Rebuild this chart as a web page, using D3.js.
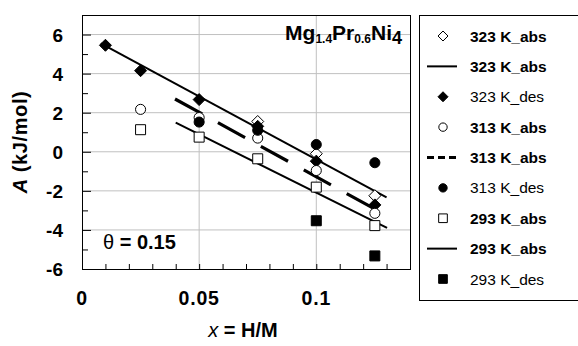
<!DOCTYPE html>
<html><head><meta charset="utf-8">
<script src="https://cdn.jsdelivr.net/npm/d3@7"></script>
<style>body{margin:0;background:#fff}svg{display:block;font-family:Arial,"Liberation Sans",sans-serif}</style>
</head><body>
<svg id="c" width="578" height="346"></svg>
<script>
const xValues = [0.01, 0.025, 0.05, 0.075, 0.1, 0.125];
const abs323 = [null, null, null, 1.55, -0.1, -2.25];
const des323 = [5.45, 4.15, 2.67, 1.3, -0.48, -2.72];
const abs313 = [null, 2.17, 1.75, 0.7, -0.96, -3.15];
const des313 = [null, null, 1.52, 1.1, 0.37, -0.56];
const abs293 = [null, 1.13, 0.75, -0.36, -1.81, -3.78];
const des293 = [null, null, null, null, -3.53, -5.33];
const fit323 = [[0.008, 5.55], [0.130, -2.34]];
const fit313 = [[0.0397, 2.7], [0.1245, -2.9]];
const fit293 = [[0.040, 1.49], [0.1302, -3.9]];
const yTicks = [-6, -4, -2, 0, 2, 4, 6];
const xTickLabels = [0, 0.05, 0.1];
const legendLabels = ["323 K_abs", "323 K_abs", "323 K_des", "313 K_abs", "313 K_abs", "313 K_des", "293 K_abs", "293 K_abs", "293 K_des"];

const svg = d3.select("#c");
const L = 82, T = 15, R = 410, B = 269;
const x = d3.scaleLinear().domain([0, 0.14]).range([L, R]);
const y = d3.scaleLinear().domain([-6, 7]).range([B, T]);

// grid
svg.append("g").selectAll("line").data([-4, -2, 0, 2, 4, 6]).join("line")
  .attr("x1", L).attr("x2", R).attr("y1", d => y(d)).attr("y2", d => y(d))
  .attr("stroke", "#c0c0c0").attr("stroke-width", 1);
svg.append("g").selectAll("line").data([0.05, 0.1]).join("line")
  .attr("y1", T).attr("y2", B).attr("x1", d => x(d)).attr("x2", d => x(d))
  .attr("stroke", "#c0c0c0").attr("stroke-width", 1);

// axes with inner ticks
const yAxis = d3.axisRight(y).tickValues(d3.range(-6, 7, 1)).tickSize(0).tickFormat("");
const gy = svg.append("g").attr("transform", `translate(${L},0)`).call(yAxis);
gy.select(".domain").remove();
gy.selectAll(".tick line").attr("x2", d => d % 2 === 0 ? 9 : 6).attr("stroke", "#000");
const xAxis = d3.axisTop(x).tickValues(d3.range(0, 0.1401, 0.01)).tickSize(5).tickFormat("");
const gx = svg.append("g").attr("transform", `translate(0,${B})`).call(xAxis);
gx.select(".domain").remove();
gx.selectAll(".tick line").attr("stroke", "#000");

svg.append("rect").attr("x", L + 0.5).attr("y", T + 0.5).attr("width", R - L).attr("height", B - T)
  .attr("fill", "none").attr("stroke", "#000").attr("stroke-width", 1);

// tick labels
svg.append("g").selectAll("text").data(yTicks).join("text")
  .attr("x", 63).attr("y", d => y(d) + 7).attr("text-anchor", "end")
  .attr("font-size", 19).attr("font-weight", "bold").text(d => d);
svg.append("g").selectAll("text").data(xTickLabels).join("text")
  .attr("x", d => x(d)).attr("y", 305).attr("text-anchor", "middle")
  .attr("font-size", 19.5).attr("letter-spacing", 0.8).attr("font-weight", "bold").text(d => d);

// axis titles
const yt = svg.append("text").attr("transform", "translate(27,142) rotate(-90)")
  .attr("text-anchor", "middle").attr("font-size", 20).attr("letter-spacing", 0.6).attr("font-weight", "bold");
yt.append("tspan").attr("font-style", "italic").text("A");
yt.append("tspan").text("  (kJ/mol)");
const xt = svg.append("text").attr("x", 243).attr("y", 337).attr("text-anchor", "middle")
  .attr("font-size", 20).attr("font-weight", "bold");
xt.append("tspan").attr("font-style", "italic").attr("font-weight", "normal").text("x");
xt.append("tspan").text(" = H/M");

// title
const tt = svg.append("text").attr("x", 402).attr("y", 40).attr("text-anchor", "end")
  .attr("font-size", 21).attr("font-weight", "bold");
tt.append("tspan").text("Mg");
tt.append("tspan").attr("font-size", 12).attr("dy", 3).text("1.4");
tt.append("tspan").attr("dy", -3).text("Pr");
tt.append("tspan").attr("font-size", 12).attr("dy", 3).text("0.6");
tt.append("tspan").attr("dy", -3).text("Ni");
tt.append("tspan").attr("font-size", 18).attr("dy", 4).text("4");

const th = svg.append("text").attr("x", 103).attr("y", 249).attr("font-size", 20).attr("font-weight", "bold");
th.append("tspan").attr("font-weight", "normal").text("θ");
th.append("tspan").text(" = 0.15");

// fit lines
const line = d3.line().x(d => x(d[0])).y(d => y(d[1]));
svg.append("path").attr("d", line(fit323)).attr("stroke", "#000").attr("stroke-width", 2).attr("fill", "none");
svg.append("path").attr("d", line(fit293)).attr("stroke", "#000").attr("stroke-width", 2).attr("fill", "none");
svg.append("path").attr("d", line(fit313)).attr("stroke", "#000").attr("stroke-width", 3.2)
  .attr("stroke-dasharray", "31,18").attr("fill", "none");

// markers
function diamondPath(s) { return `M0,${-s}L${s},0L0,${s}L${-s},0Z`; }
function markerPath(kind) {
  if (kind === "diamond") return diamondPath(6);
  if (kind === "circle") return d3.symbol().type(d3.symbolCircle).size(80)();
  return d3.symbol().type(d3.symbolSquare).size(100)();
}
const series = [
  {vals: abs323, kind: "diamond", fill: "#fff"},
  {vals: des323, kind: "diamond", fill: "#000"},
  {vals: abs313, kind: "circle", fill: "#fff"},
  {vals: des313, kind: "circle", fill: "#000"},
  {vals: abs293, kind: "square", fill: "#fff"},
  {vals: des293, kind: "square", fill: "#000"}
];
series.forEach(s => {
  const pts = xValues.map((xv, i) => [xv, s.vals[i]]).filter(p => p[1] !== null);
  svg.append("g").selectAll("path").data(pts).join("path")
    .attr("transform", d => `translate(${x(d[0])},${y(d[1])})`)
    .attr("d", markerPath(s.kind)).attr("fill", s.fill).attr("stroke", "#000").attr("stroke-width", 1);
});

// legend
svg.append("rect").attr("x", 419.5).attr("y", 15.5).attr("width", 170).attr("height", 285)
  .attr("fill", "#fff").attr("stroke", "#000");
const legendItems = [
  {kind: "diamond", fill: "#fff"}, {line: "solid"}, {kind: "diamond", fill: "#000"},
  {kind: "circle", fill: "#fff"}, {line: "dash"}, {kind: "circle", fill: "#000"},
  {kind: "square", fill: "#fff"}, {line: "solid"}, {kind: "square", fill: "#000"}
];
const ly = d3.scaleLinear().domain([0, 8]).range([36, 279]);
legendItems.forEach((it, i) => {
  const cy = ly(i);
  if (it.line) {
    svg.append("line").attr("x1", 427).attr("x2", 457).attr("y1", cy).attr("y2", cy)
      .attr("stroke", "#000").attr("stroke-width", it.line === "dash" ? 3.2 : 2)
      .attr("stroke-dasharray", it.line === "dash" ? "7,4" : null);
  } else {
    const p = it.kind === "diamond" ? diamondPath(5) : d3.symbol().type(it.kind === "circle" ? d3.symbolCircle : d3.symbolSquare).size(it.kind === "circle" ? 55 : 75)();
    svg.append("path").attr("transform", `translate(443,${cy})`).attr("d", p)
      .attr("fill", it.fill).attr("stroke", "#000");
  }
  const bold = !legendLabels[i].includes("des");
  svg.append("text").attr("x", 470).attr("y", cy + 5.5).attr("font-size", 15.5)
    .attr("font-weight", bold ? "bold" : "normal").text(legendLabels[i]);
});
</script>
</body></html>
